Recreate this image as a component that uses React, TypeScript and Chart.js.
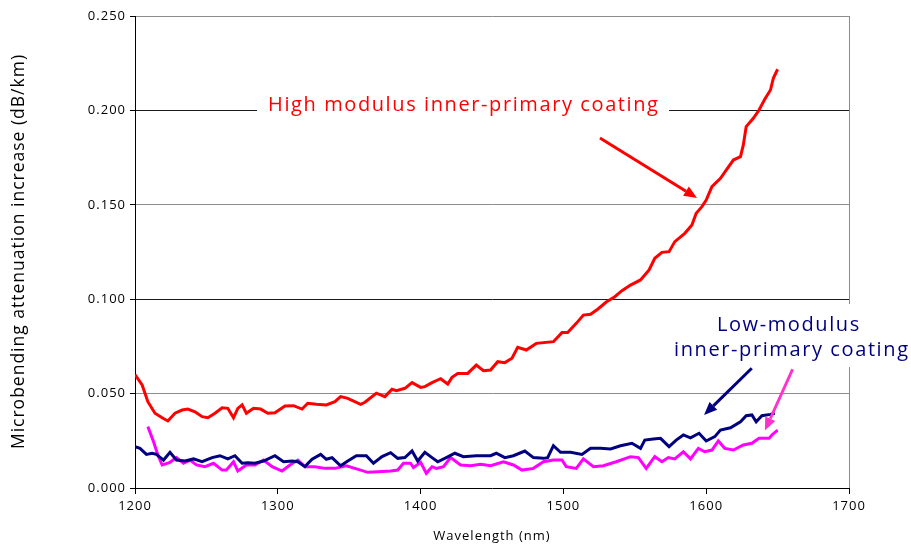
import React, { useEffect, useRef } from 'react';
import { Chart, registerables } from 'chart.js';
Chart.register(...registerables);

// ---- Data ----
const highNm = [1200, 1205, 1209, 1214, 1219, 1223, 1228, 1233, 1237, 1242, 1247, 1251, 1256, 1261, 1265, 1269, 1272, 1275, 1278, 1283, 1288, 1293, 1298, 1305, 1311, 1317, 1321, 1327, 1334, 1340, 1344, 1349, 1358, 1361, 1369, 1375, 1380, 1383, 1389, 1394, 1400, 1403, 1408, 1414, 1419, 1422, 1426, 1433, 1439, 1444, 1449, 1454, 1459, 1464, 1468, 1474, 1481, 1493, 1499, 1503, 1509, 1514, 1519, 1524, 1530, 1536, 1541, 1547, 1554, 1560, 1564, 1569, 1574, 1578, 1585, 1590, 1593, 1597, 1600, 1604, 1610, 1614, 1619, 1624, 1626, 1628, 1633, 1637, 1641, 1645, 1647, 1650];
const highVal = [0.0600, 0.0546, 0.0457, 0.0396, 0.0372, 0.0355, 0.0396, 0.0413, 0.0418, 0.0404, 0.0378, 0.0372, 0.0396, 0.0425, 0.0422, 0.0372, 0.0422, 0.0440, 0.0396, 0.0422, 0.0418, 0.0396, 0.0399, 0.0434, 0.0436, 0.0418, 0.0449, 0.0443, 0.0440, 0.0457, 0.0484, 0.0475, 0.0443, 0.0454, 0.0502, 0.0484, 0.0523, 0.0516, 0.0528, 0.0558, 0.0533, 0.0537, 0.0558, 0.0579, 0.0551, 0.0586, 0.0607, 0.0607, 0.0651, 0.0621, 0.0625, 0.0669, 0.0664, 0.0687, 0.0745, 0.0731, 0.0766, 0.0775, 0.0823, 0.0823, 0.0872, 0.0916, 0.0920, 0.0947, 0.0985, 0.1013, 0.1045, 0.1075, 0.1102, 0.1155, 0.1217, 0.1248, 0.1252, 0.1305, 0.1349, 0.1393, 0.1455, 0.1490, 0.1525, 0.1596, 0.1640, 0.1684, 0.1737, 0.1755, 0.1817, 0.1914, 0.1958, 0.2002, 0.2059, 0.2108, 0.2170, 0.2218];

const lowNavyNm = [1200, 1203.5, 1208, 1212, 1215, 1220, 1224.5, 1229, 1235, 1241, 1247, 1254, 1259.5, 1265, 1270, 1275, 1279, 1284, 1290, 1298, 1304, 1310, 1314, 1319, 1324, 1330, 1334, 1338, 1344, 1349, 1355, 1362, 1367, 1373, 1379, 1384, 1389, 1394, 1398, 1403, 1408, 1412, 1418, 1424, 1430, 1439, 1449, 1453, 1459, 1465, 1473, 1479, 1486, 1489, 1493, 1498, 1505, 1513, 1519, 1526, 1533, 1540, 1548, 1554, 1557, 1563, 1568, 1574, 1579, 1584, 1589, 1595, 1600, 1606, 1610, 1617, 1624, 1628, 1632, 1635, 1639, 1645, 1648];
const lowNavyVal = [0.0219, 0.0210, 0.0178, 0.0184, 0.0178, 0.0148, 0.0189, 0.0148, 0.0143, 0.0154, 0.0139, 0.0161, 0.0171, 0.0154, 0.0171, 0.0131, 0.0134, 0.0131, 0.0143, 0.0171, 0.0139, 0.0143, 0.0139, 0.0113, 0.0152, 0.0178, 0.0152, 0.0161, 0.0118, 0.0143, 0.0171, 0.0171, 0.0131, 0.0166, 0.0187, 0.0157, 0.0161, 0.0196, 0.0143, 0.0189, 0.0161, 0.0139, 0.0161, 0.0184, 0.0166, 0.0171, 0.0171, 0.0184, 0.0161, 0.0171, 0.0196, 0.0161, 0.0157, 0.0161, 0.0224, 0.0189, 0.0189, 0.0178, 0.0210, 0.0210, 0.0207, 0.0224, 0.0237, 0.0210, 0.0254, 0.0260, 0.0263, 0.0219, 0.0254, 0.0281, 0.0266, 0.0290, 0.0249, 0.0272, 0.0307, 0.0319, 0.0351, 0.0383, 0.0387, 0.0351, 0.0383, 0.0390, 0.0396];

const lowPinkNm = [1209, 1213, 1216, 1219, 1224.5, 1229, 1234, 1238.5, 1243, 1249, 1255, 1261, 1264, 1269, 1272, 1278, 1284, 1290, 1296, 1303, 1308.5, 1314, 1319, 1326, 1333, 1340, 1348, 1354, 1363, 1370, 1379, 1384, 1388, 1393, 1395, 1400, 1404, 1408, 1411, 1416, 1421, 1428, 1435, 1442, 1449, 1458, 1465, 1471, 1479, 1486, 1493, 1499, 1502, 1509, 1514, 1521, 1528, 1537, 1547, 1552.5, 1558, 1564, 1569, 1573.5, 1578, 1584, 1589, 1594.5, 1599, 1604, 1608.5, 1613, 1619, 1626, 1632, 1637, 1644, 1646, 1650];
const lowPinkVal = [0.0325, 0.0245, 0.0175, 0.0122, 0.0136, 0.0161, 0.0131, 0.0148, 0.0122, 0.0113, 0.0131, 0.0095, 0.0095, 0.0139, 0.0090, 0.0122, 0.0122, 0.0148, 0.0113, 0.0090, 0.0122, 0.0148, 0.0113, 0.0113, 0.0104, 0.0104, 0.0118, 0.0104, 0.0083, 0.0086, 0.0090, 0.0095, 0.0131, 0.0131, 0.0108, 0.0136, 0.0078, 0.0113, 0.0104, 0.0113, 0.0161, 0.0122, 0.0118, 0.0126, 0.0118, 0.0139, 0.0122, 0.0095, 0.0104, 0.0139, 0.0148, 0.0148, 0.0113, 0.0104, 0.0154, 0.0113, 0.0118, 0.0139, 0.0166, 0.0161, 0.0104, 0.0166, 0.0139, 0.0161, 0.0154, 0.0192, 0.0154, 0.0210, 0.0192, 0.0201, 0.0249, 0.0210, 0.0201, 0.0228, 0.0237, 0.0263, 0.0263, 0.0281, 0.0307];

const xTicks = [1200, 1300, 1400, 1500, 1600, 1700];
const yTicks = [0, 0.05, 0.1, 0.15, 0.2, 0.25];

const xTitle = 'Wavelength (nm)';
const yTitle = 'Microbending attenuation increase (dB/km)';
const highLabel = 'High modulus inner-primary coating';
const lowLabel1 = 'Low-modulus';
const lowLabel2 = 'inner-primary coating';

// annotation anchors in data units [nm, dB/km]
const highLabelPos = [1429.7, 0.2029];
const lowLabel1Pos = [1657.3, 0.0863];
const lowLabel2Pos = [1659.4, 0.0731];
const highArrow = [[1525.6, 0.1854], [1593.6, 0.1536]];
const navyArrow = [[1631.9, 0.0634], [1598.5, 0.0387]];
const pinkArrow = [[1660.5, 0.0629], [1641.1, 0.0304]];

const FONT = '"Open Sans", "DejaVu Sans", sans-serif';

function arrow(ctx: CanvasRenderingContext2D, x1: number, y1: number, x2: number, y2: number, color: string) {
  const ang = Math.atan2(y2 - y1, x2 - x1);
  const hl = 13, hw = 5.5;
  const bx = x2 - hl * Math.cos(ang), by = y2 - hl * Math.sin(ang);
  ctx.strokeStyle = color;
  ctx.fillStyle = color;
  ctx.lineWidth = 3;
  ctx.beginPath();
  ctx.moveTo(x1, y1);
  ctx.lineTo(bx, by);
  ctx.stroke();
  ctx.beginPath();
  ctx.moveTo(x2, y2);
  ctx.lineTo(bx + hw * Math.sin(ang), by - hw * Math.cos(ang));
  ctx.lineTo(bx - hw * Math.sin(ang), by + hw * Math.cos(ang));
  ctx.closePath();
  ctx.fill();
}

const spacingPlugin = {
  id: 'spacing',
  beforeUpdate(chart: any) { chart.ctx.letterSpacing = '1px'; },
  beforeDraw(chart: any) { chart.ctx.letterSpacing = '1px'; },
};

const yTitlePlugin = {
  id: 'ytitle',
  afterDraw(chart: any) {
    const { ctx, chartArea } = chart;
    ctx.save();
    ctx.font = `17.5px ${FONT}`;
    ctx.letterSpacing = '0px';
    const w0 = ctx.measureText(yTitle).width;
    const sp = 1;
    const L = w0 + sp * (yTitle.length - 1);
    ctx.letterSpacing = `${sp}px`;
    ctx.fillStyle = '#000';
    ctx.textAlign = 'left';
    ctx.textBaseline = 'middle';
    const cy = (chartArea.top + chartArea.bottom) / 2;
    ctx.translate(19, cy);
    ctx.rotate(-Math.PI / 2);
    ctx.fillText(yTitle, -L / 2, 0);
    ctx.restore();
  },
};

const annotPlugin = {
  id: 'annot',
  afterDatasetsDraw(chart: any) {
    const { ctx } = chart;
    const x = chart.scales.x, y = chart.scales.y;
    const px = (p: number[]) => [x.getPixelForValue(p[0]), y.getPixelForValue(p[1])];
    ctx.save();
    ctx.font = `20px ${FONT}`;
    ctx.textAlign = 'left';
    ctx.textBaseline = 'middle';
    const sp = 1.6;
    const width = (s: string) => {
      ctx.letterSpacing = '0px';
      const w = ctx.measureText(s).width + sp * (s.length - 1);
      return w;
    };
    const draw = (s: string, cx: number, cy: number, color: string) => {
      const w = width(s);
      ctx.letterSpacing = `${sp}px`;
      ctx.fillStyle = color;
      ctx.fillText(s, cx - w / 2, cy);
    };

    const [hx, hy] = px(highLabelPos);
    const hw = width(highLabel);
    ctx.fillStyle = '#ffffff';
    ctx.fillRect(hx - hw / 2 - 11, hy - 12, hw + 22, 24);
    draw(highLabel, hx, hy, '#ff0000');

    const [l1x, l1y] = px(lowLabel1Pos);
    const [l2x, l2y] = px(lowLabel2Pos);
    const w2 = width(lowLabel2);
    ctx.fillStyle = '#ffffff';
    ctx.fillRect(l2x - w2 / 2 - 6, l1y - 21, w2 + 30, l2y - l1y + 38);
    draw(lowLabel1, l1x, l1y, '#000080');
    draw(lowLabel2, l2x, l2y, '#000080');

    const a1 = px(highArrow[0]), a2 = px(highArrow[1]);
    arrow(ctx, a1[0], a1[1], a2[0], a2[1], '#ff0000');
    const b1 = px(navyArrow[0]), b2 = px(navyArrow[1]);
    arrow(ctx, b1[0], b1[1], b2[0], b2[1], '#000080');
    const c1 = px(pinkArrow[0]), c2 = px(pinkArrow[1]);
    arrow(ctx, c1[0], c1[1], c2[0], c2[1], '#ff33cc');
    ctx.restore();
  },
};

const toPts = (xs: number[], ys: number[]) => xs.map((v, i) => ({ x: v, y: ys[i] }));

export default function App() {
  const ref = useRef<HTMLCanvasElement>(null);
  useEffect(() => {
    if (!ref.current) return;
    Chart.defaults.font.family = FONT;
    const chart = new Chart(ref.current, {
      type: 'line',
      data: {
        datasets: [
          { label: 'high', data: toPts(highNm, highVal), borderColor: '#ff0000', borderWidth: 3, pointRadius: 0, tension: 0 },
          { label: 'low-navy', data: toPts(lowNavyNm, lowNavyVal), borderColor: '#000080', borderWidth: 3, pointRadius: 0, tension: 0 },
          { label: 'low-pink', data: toPts(lowPinkNm, lowPinkVal), borderColor: '#ff00ff', borderWidth: 3, pointRadius: 0, tension: 0 },
        ],
      },
      options: {
        animation: false,
        responsive: true,
        maintainAspectRatio: false,
        layout: { padding: { top: 16, right: 62, left: 0, bottom: 0 } },
        plugins: { legend: { display: false }, tooltip: { enabled: false } },
        scales: {
          x: {
            type: 'linear',
            min: 1200,
            max: 1700,
            afterBuildTicks: (s: any) => { s.ticks = xTicks.map((v) => ({ value: v })); },
            afterFit: (s: any) => { s.height = 56; },
            ticks: { color: '#000', font: { size: 13 }, padding: 4, callback: (v: any) => String(v) },
            grid: {
              drawOnChartArea: true,
              color: (c: any) => (c.tick && c.tick.value === 1700 ? '#8c8c8c' : 'transparent'),
              tickColor: '#000',
              tickLength: 6,
            },
            border: { color: '#000', width: 1 },
            title: { display: true, text: xTitle, color: '#000', font: { size: 13 }, padding: { top: 6, bottom: 0 } },
          },
          y: {
            min: 0,
            max: 0.25,
            afterBuildTicks: (s: any) => { s.ticks = yTicks.map((v) => ({ value: v })); },
            afterFit: (s: any) => { s.width = 135; },
            ticks: { color: '#000', font: { size: 13 }, padding: 4, callback: (v: any) => Number(v).toFixed(3) },
            grid: {
              color: (c: any) => {
                const v = c.tick ? c.tick.value : 0;
                if (v === 0) return 'transparent';
                const k = Math.round(v * 100);
                return k % 10 === 0 ? '#1a1a1a' : '#8c8c8c';
              },
              tickColor: '#000',
              tickLength: 5,
            },
            border: { color: '#000', width: 1 },
            title: { display: false, text: yTitle },
          },
        },
      },
      plugins: [spacingPlugin, annotPlugin, yTitlePlugin],
    } as any);
    return () => chart.destroy();
  }, []);
  return (
    <div style={{ position: 'fixed', left: 0, top: 0, width: 911, height: 544, background: '#fff' }}>
      <canvas ref={ref} />
    </div>
  );
}
